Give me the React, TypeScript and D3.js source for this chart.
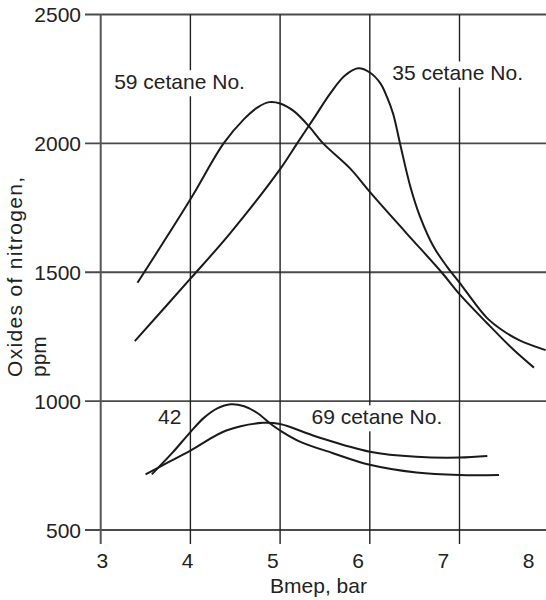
import React from "react";
import * as d3 from "d3";

const xTicks = [3, 4, 5, 6, 7, 8];
const yTicks = [500, 1000, 1500, 2000, 2500];

const cet59X = [3.41, 4.0, 4.37, 4.6, 4.75, 4.88, 5.0, 5.15, 5.32, 5.48, 5.78, 6.0, 6.4, 6.8, 7.0, 7.3, 7.6, 7.83];
const cet59Y = [1459, 1783, 2000, 2095, 2140, 2160, 2155, 2126, 2067, 2000, 1903, 1812, 1655, 1500, 1415, 1305, 1200, 1130];

const cet35X = [3.38, 4.0, 4.44, 5.0, 5.19, 5.37, 5.56, 5.72, 5.87, 6.0, 6.12, 6.19, 6.26, 6.34, 6.45, 6.56, 6.71, 6.86, 7.0, 7.3, 7.49, 7.67, 7.96];
const cet35Y = [1233, 1475, 1650, 1900, 2000, 2094, 2194, 2262, 2291, 2275, 2232, 2181, 2115, 1995, 1835, 1716, 1600, 1522, 1460, 1325, 1272, 1236, 1198];

const cet42X = [3.57, 3.8, 4.0, 4.15, 4.3, 4.45, 4.6, 4.75, 4.9, 5.0, 5.22, 5.59, 6.0, 6.52, 7.0, 7.44];
const cet42Y = [716, 800, 880, 935, 972, 988, 980, 953, 910, 886, 843, 798, 753, 723, 713, 713];

const cet69X = [3.5, 3.75, 4.0, 4.4, 4.81, 5.0, 5.41, 6.0, 6.52, 7.0, 7.31];
const cet69Y = [716, 762, 808, 886, 916, 911, 862, 804, 784, 781, 787];

const series = [
  { xs: cet59X, ys: cet59Y },
  { xs: cet35X, ys: cet35Y },
  { xs: cet42X, ys: cet42Y },
  { xs: cet69X, ys: cet69Y },
];

const labels = [
  { text: "59 cetane No.", x: 3.15, y: 2210 },
  { text: "35 cetane No.", x: 6.25, y: 2244 },
  { text: "42", x: 3.64, y: 910 },
  { text: "69 cetane No.", x: 5.35, y: 910 },
];

const FONT = "'Liberation Sans', Arial, Helvetica, sans-serif";
const FS = 21;

export default function App() {
  const x = d3.scaleLinear().domain([3, 8]).range([100.7, 549.2]);
  const xLab = d3.scaleLinear().domain([3, 8]).range([102.3, 528.7]);
  const y = d3.scaleLinear().domain([500, 2500]).range([530, 14.5]);
  const line = d3
    .line<[number, number]>()
    .x((d) => x(d[0]))
    .y((d) => y(d[1]))
    .curve(d3.curveCatmullRom.alpha(0.5));

  const W = 546;
  const H = 600;
  const yBottom = 544;

  const textW = (s: string) => {
    const w: Record<string, number> = { " ": 0.278, c: 0.5, e: 0.556, t: 0.278, a: 0.556, n: 0.556, N: 0.722, o: 0.556, ".": 0.278 };
    let t = 0;
    for (const ch of s) t += w[ch] ?? 0.556;
    return t * FS;
  };

  return (
    <svg
      width={W}
      height={H}
      style={{ position: "absolute", left: 0, top: 0, background: "#fff" }}
      fontFamily={FONT}
    >
      <rect x={0} y={0} width={W} height={H} fill="#fff" />
      {yTicks.map((t) => (
        <line key={"h" + t} x1={85} x2={W} y1={y(t)} y2={y(t)} stroke="#4a4a4a" strokeWidth={1.8} />
      ))}
      {xTicks
        .filter((t) => x(t) < W)
        .map((t) => (
          <line
            key={"v" + t}
            x1={x(t)}
            x2={x(t)}
            y1={y(2500)}
            y2={yBottom}
            stroke={t === 3 ? "#555" : "#222"}
            strokeWidth={t === 3 ? 2 : 1.4}
          />
        ))}
      {labels.map((l) => (
        <rect
          key={"bg" + l.text}
          x={x(l.x) - 2}
          y={y(l.y) - 19}
          width={textW(l.text) + 4}
          height={26}
          fill="#fff"
        />
      ))}
      {series.map((s, i) => (
        <path
          key={"s" + i}
          d={line(s.xs.map((v, j) => [v, s.ys[j]] as [number, number])) || ""}
          fill="none"
          stroke="#1a1a1a"
          strokeWidth={2}
        />
      ))}
      {labels.map((l) => (
        <text key={"t" + l.text} x={x(l.x)} y={y(l.y)} fontSize={FS} fill="#222">
          {l.text}
        </text>
      ))}
      {yTicks.map((t) => (
        <text key={"yl" + t} x={81} y={y(t)} dy={7.6} textAnchor="end" fontSize={FS} fill="#222">
          {t}
        </text>
      ))}
      {xTicks.map((t) => (
        <text key={"xl" + t} x={xLab(t)} y={568} textAnchor="middle" fontSize={FS} fill="#222">
          {t}
        </text>
      ))}
      <text x={318.5} y={593} textAnchor="middle" fontSize={FS} fill="#222">
        Bmep, bar
      </text>
      <text
        transform="translate(22,377) rotate(-90)"
        fontSize={FS}
        fill="#222"
        textLength={200}
        lengthAdjust="spacing"
      >
        Oxides of nitrogen,
      </text>
      <text transform="translate(45.5,377) rotate(-90)" fontSize={FS} fill="#222">
        ppm
      </text>
    </svg>
  );
}
